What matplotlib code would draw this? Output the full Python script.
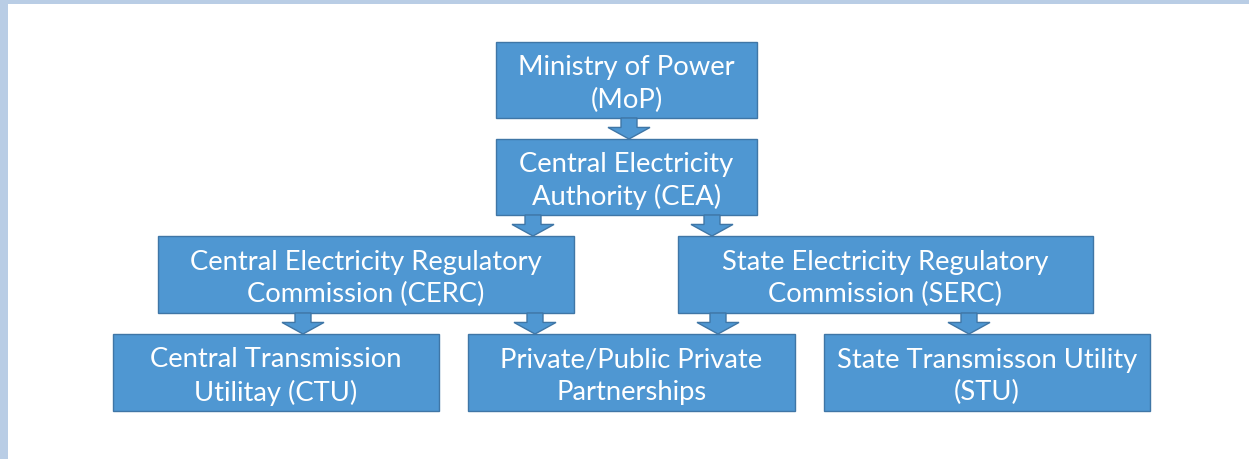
import matplotlib.pyplot as plt
from matplotlib.patches import Rectangle, Polygon

# ----------------------------------
# 1) Chart content
# ----------------------------------
labels = [
    "Ministry of Power\n(MoP)",
    "Central Electricity\nAuthority (CEA)",
    "Central Electricity Regulatory\nCommission (CERC)",
    "State Electricity Regulatory\nCommission (SERC)",
    "Central Transmission\nUtilitay (CTU)",
    "Private/Public Private\nPartnerships",
    "State Transmisson Utility\n(STU)",
]

# ----------------------------------
# 2) Layout (pixel coords, y down): x0, x1, y0, y1
# ----------------------------------
boxes = [
    (496, 757, 42, 118),
    (496, 757, 139, 215),
    (158, 574, 236, 313),
    (678, 1093, 236, 313),
    (113, 439, 334, 411),
    (468, 795, 334, 411),
    (824, 1150, 334, 411),
]
# arrows: (x center, y top, y tip)
arrows = [
    (629, 118, 139),
    (533, 215, 236),
    (712, 215, 236),
    (303, 313, 334),
    (535, 313, 334),
    (718, 313, 334),
    (969, 313, 334),
]

box_color = "#4F97D2"
edge_color = "#3F76A6"

fig = plt.figure(figsize=(12.49, 4.59), dpi=100)
ax = fig.add_axes([0, 0, 1, 1])
ax.set_xlim(0, 1249)
ax.set_ylim(459, 0)
ax.axis("off")

# light blue frame on top and left
ax.add_patch(Rectangle((0, 0), 1249, 4, color="#B9CDE5", lw=0))
ax.add_patch(Rectangle((0, 0), 8, 459, color="#B9CDE5", lw=0))

for (x0, x1, y0, y1), text in zip(boxes, labels):
    ax.add_patch(Rectangle((x0, y0), x1 - x0, y1 - y0, facecolor=box_color,
                           edgecolor=edge_color, lw=1))
    ax.text((x0 + x1) / 2, (y0 + y1) / 2 + 4, text, ha="center", va="center",
            color="white", fontsize=19.7, family="Lato", linespacing=1.36)

for xc, yt, yb in arrows:
    sw, hw = 8, 21
    yh = yt + (yb - yt) * 0.45
    pts = [(xc - sw, yt), (xc + sw, yt), (xc + sw, yh), (xc + hw, yh),
           (xc, yb), (xc - hw, yh), (xc - sw, yh)]
    ax.add_patch(Polygon(pts, closed=True, facecolor=box_color,
                         edgecolor=edge_color, lw=1, zorder=3))

plt.savefig("out.png", dpi=100)
plt.close()
